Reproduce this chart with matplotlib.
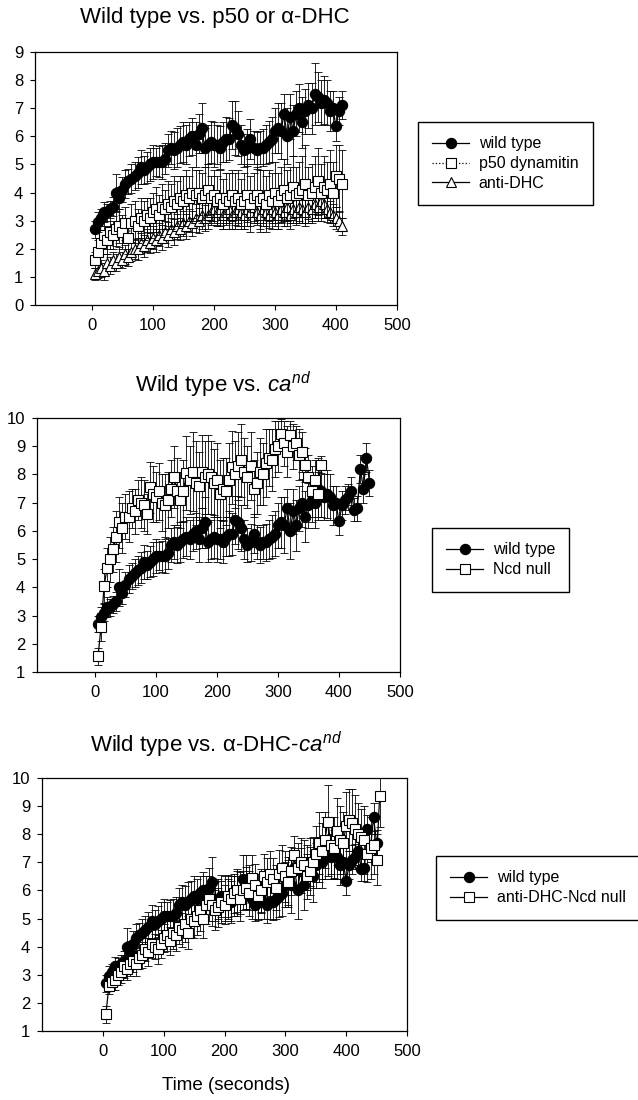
import numpy as np
import matplotlib
matplotlib.use("Agg")
import matplotlib.pyplot as plt

plt.rcParams['font.family'] = ['Liberation Sans', 'DejaVu Sans']
plt.rcParams['mathtext.fontset'] = 'custom'
plt.rcParams['mathtext.rm'] = 'Liberation Sans'
plt.rcParams['mathtext.it'] = 'Liberation Sans:italic'

# sampling interval (s) of the time-lapse
STEP = 5

# wild type (same curve in all three panels), t = 5..450 s
wild_type = [2.7, 2.95, 3.1, 3.3, 3.3, 3.4, 3.5, 4.0, 3.8, 4.1,
             4.3, 4.4, 4.5, 4.6, 4.7, 4.9, 4.8, 4.9, 5.0, 5.1,
             5.1, 5.1, 5.1, 5.2, 5.5, 5.6, 5.5, 5.6, 5.7, 5.8,
             5.7, 5.9, 6.0, 5.7, 6.1, 6.3, 5.6, 5.7, 5.8, 5.7,
             5.7, 5.6, 5.8, 5.9, 5.9, 6.4, 6.3, 6.1, 5.7, 5.5,
             5.6, 5.9, 5.6, 5.5, 5.6, 5.6, 5.7, 5.8, 5.9, 6.2,
             6.3, 6.2, 6.8, 6.0, 6.7, 6.2, 6.8, 7.0, 6.5, 6.9,
             7.1, 7.0, 7.5, 7.4, 7.2, 7.3, 7.2, 6.9, 7.0, 6.35,
             6.9, 7.1, 7.2, 7.4, 6.75, 6.8, 8.2, 7.5, 8.6, 7.7]
wild_type_err = [0.3, 0.35, 0.3, 0.35, 0.3, 0.3, 0.35, 0.65, 0.4, 0.45,
                 0.5, 0.45, 0.5, 0.5, 0.55, 0.6, 0.5, 0.55, 0.6, 0.6,
                 0.5, 0.55, 0.6, 0.55, 0.6, 0.6, 0.65, 0.7, 0.65, 0.7,
                 0.7, 0.6, 0.65, 0.8, 0.7, 0.9, 0.7, 0.7, 0.75, 0.8,
                 0.7, 0.75, 0.7, 0.8, 0.75, 0.85, 0.95, 0.8, 0.7, 0.6,
                 0.65, 0.7, 0.6, 0.65, 0.6, 0.65, 0.7, 0.75, 0.8, 0.8,
                 0.9, 1.0, 0.7, 1.0, 0.8, 0.9, 0.8, 0.85, 0.9, 0.8,
                 0.8, 0.9, 1.1, 0.9, 0.8, 0.85, 0.8, 0.7, 0.6, 0.5,
                 0.5, 0.5, 0.45, 0.5, 0.4, 0.45, 0.5, 0.5, 0.5, 0.45]

# p50 dynamitin, t = 5..410 s
p50 = [1.6, 1.9, 2.2, 2.5, 2.3, 2.6, 2.5, 2.7, 2.8, 2.6,
       2.9, 2.4, 2.9, 3.0, 2.8, 3.1, 3.0, 3.2, 3.1, 3.3,
       3.4, 3.2, 3.5, 3.4, 3.6, 3.5, 3.7, 3.6, 3.8, 3.7,
       3.9, 3.8, 4.0, 3.9, 4.0, 3.8, 3.9, 4.1, 3.8, 3.9,
       3.7, 3.8, 3.6, 3.8, 3.7, 3.9, 3.7, 3.8, 3.6, 3.7,
       3.9, 3.6, 3.8, 3.9, 3.7, 3.8, 3.6, 3.9, 3.7, 4.0,
       3.7, 3.9, 4.1, 3.8, 3.9, 4.2, 3.9, 4.0, 4.1, 4.3,
       3.9, 4.0, 4.2, 4.4, 4.0, 4.2, 4.1, 4.3, 4.0, 4.6,
       4.5, 4.3]
p50_err = [0.3, 0.4, 0.4, 0.5, 0.5, 0.6, 0.5, 0.6, 0.6, 0.6,
           0.6, 0.6, 0.7, 0.7, 0.6, 0.7, 0.7, 0.6, 0.7, 0.7,
           0.8, 0.7, 0.8, 0.7, 0.8, 0.8, 0.9, 0.8, 0.8, 0.9,
           0.9, 0.8, 0.9, 0.9, 0.8, 0.9, 1.0, 0.9, 0.8, 0.9,
           0.9, 1.0, 0.9, 0.9, 1.0, 0.9, 1.0, 1.0, 0.9, 1.0,
           1.1, 1.0, 0.9, 1.0, 1.1, 1.0, 1.0, 0.9, 1.0, 1.1,
           1.0, 1.0, 1.1, 1.0, 1.0, 1.1, 1.0, 1.1, 1.2, 1.4,
           1.0, 1.0, 1.1, 1.2, 1.0, 1.1, 1.0, 1.2, 1.1, 1.1,
           1.2, 1.2]

# anti-DHC, t = 5..410 s
anti_dhc = [1.1, 1.2, 1.3, 1.2, 1.5, 1.4, 1.6, 1.5, 1.7, 1.6,
            1.8, 1.7, 1.9, 2.0, 2.0, 2.2, 2.1, 2.3, 2.2, 2.4,
            2.3, 2.5, 2.4, 2.6, 2.5, 2.7, 2.6, 2.8, 2.7, 2.9,
            2.8, 3.0, 2.9, 3.1, 3.0, 3.2, 3.1, 3.2, 3.3, 3.4,
            3.3, 3.4, 3.2, 3.3, 3.4, 3.2, 3.3, 3.4, 3.3, 3.2,
            3.4, 3.3, 3.5, 3.3, 3.2, 3.4, 3.3, 3.2, 3.4, 3.3,
            3.2, 3.4, 3.3, 3.5, 3.2, 3.4, 3.3, 3.5, 3.4, 3.3,
            3.5, 3.4, 3.6, 3.5, 3.7, 3.6, 3.4, 3.3, 3.2, 3.1,
            3.0, 2.8]
anti_dhc_err = [0.2, 0.25, 0.3, 0.3, 0.3, 0.3, 0.3, 0.3, 0.35, 0.3,
                0.35, 0.3, 0.35, 0.35, 0.4, 0.35, 0.4, 0.4, 0.35, 0.4,
                0.4, 0.4, 0.45, 0.4, 0.45, 0.4, 0.45, 0.45, 0.4, 0.45,
                0.45, 0.4, 0.45, 0.5, 0.45, 0.5, 0.45, 0.5, 0.45, 0.5,
                0.45, 0.5, 0.5, 0.45, 0.5, 0.5, 0.45, 0.5, 0.5, 0.5,
                0.45, 0.5, 0.5, 0.45, 0.5, 0.5, 0.5, 0.45, 0.5, 0.5,
                0.5, 0.45, 0.5, 0.5, 0.5, 0.5, 0.45, 0.5, 0.5, 0.5,
                0.45, 0.5, 0.5, 0.5, 0.45, 0.5, 0.45, 0.4, 0.4, 0.4,
                0.35, 0.3]

# Ncd null, t = 5..370 s
ncd_null = [1.55, 2.6, 4.05, 4.7, 5.0, 5.35, 5.8, 6.3, 6.1, 6.5,
            6.5, 6.8, 6.7, 7.1, 7.0, 6.9, 6.6, 7.55, 7.3, 7.2,
            7.4, 7.0, 6.9, 7.1, 7.5, 7.9, 7.4, 7.1, 7.4, 8.05,
            7.8, 8.1, 7.7, 7.6, 8.1, 7.9, 8.0, 7.9, 7.7, 7.8,
            7.3, 7.5, 7.4, 7.8, 8.25, 8.0, 8.3, 8.5, 8.1, 7.9,
            8.3, 7.5, 7.7, 8.1, 8.0, 8.4, 8.6, 8.5, 8.9, 9.0,
            9.45, 9.1, 8.8, 9.4, 9.0, 9.1, 8.7, 8.8, 8.35, 7.9,
            7.4, 7.8, 7.3, 8.35]
ncd_null_err = [0.3, 0.5, 0.6, 0.7, 0.8, 0.8, 0.9, 0.9, 0.9, 0.8,
                0.9, 0.7, 0.8, 0.7, 0.9, 0.9, 0.7, 0.9, 1.0, 0.9,
                1.0, 1.0, 1.1, 1.0, 1.0, 1.1, 1.2, 1.0, 1.1, 1.3,
                1.2, 1.4, 1.5, 1.2, 1.3, 1.3, 1.4, 1.3, 1.2, 1.3,
                1.2, 1.1, 1.2, 1.3, 1.3, 1.2, 1.2, 1.3, 1.2, 1.1,
                1.2, 1.0, 1.1, 1.2, 1.1, 1.2, 1.0, 1.1, 1.0, 0.9,
                0.5, 0.8, 0.9, 0.5, 0.8, 0.6, 0.9, 0.7, 0.6, 0.8,
                0.9, 0.7, 0.8, 0.3]

# anti-DHC-Ncd null, t = 5..455 s
dhc_ncd = [1.6, 2.6, 2.75, 2.8, 3.0, 3.1, 3.3, 3.2, 3.4, 3.5,
           3.4, 3.6, 3.7, 3.9, 3.8, 4.1, 4.0, 3.9, 4.1, 4.3,
           4.4, 4.2, 4.5, 4.4, 4.7, 4.6, 4.8, 4.5, 5.0, 4.9,
           5.1, 5.3, 5.0, 5.5, 5.7, 5.5, 5.3, 5.4, 5.6, 5.5,
           5.8, 5.7, 5.9, 6.0, 5.7, 6.0, 6.1, 5.9, 6.45, 6.2,
           5.8, 6.0, 6.5, 6.3, 6.6, 6.4, 6.1, 6.6, 6.8, 6.5,
           6.3, 6.7, 7.25, 6.8, 7.0, 6.9, 6.5, 6.7, 7.0, 7.3,
           7.7, 7.4, 7.8, 8.45, 7.6, 7.5, 8.1, 7.8, 7.7, 8.3,
           8.5, 8.4, 8.2, 8.0, 7.9, 7.8, 7.3, 7.5, 7.6, 7.1, 9.35]
dhc_ncd_err = [0.3, 0.3, 0.3, 0.35, 0.35, 0.4, 0.4, 0.4, 0.45, 0.4,
               0.45, 0.4, 0.45, 0.4, 0.5, 0.5, 0.45, 0.5, 0.5, 0.5,
               0.55, 0.5, 0.6, 0.55, 0.6, 0.6, 0.65, 0.6, 0.65, 0.6,
               0.7, 0.75, 0.7, 0.7, 0.8, 0.75, 0.7, 0.7, 0.75, 0.7,
               0.75, 0.8, 0.7, 0.75, 0.8, 0.7, 0.75, 0.8, 0.8, 0.75,
               0.8, 0.75, 0.8, 0.85, 0.8, 0.75, 0.8, 0.85, 0.8, 0.9,
               0.8, 0.85, 0.7, 0.9, 0.85, 0.9, 0.8, 0.85, 0.9, 1.0,
               1.1, 1.0, 1.0, 1.3, 1.0, 1.1, 1.2, 1.2, 1.1, 1.2,
               1.1, 1.2, 1.2, 1.1, 1.0, 1.2, 1.0, 1.1, 1.0, 0.9, 1.1]

wt_time = np.arange(1, len(wild_type) + 1) * STEP
p50_time = np.arange(1, len(p50) + 1) * STEP
adhc_time = np.arange(1, len(anti_dhc) + 1) * STEP
ncd_time = np.arange(1, len(ncd_null) + 1) * STEP
dn_time = np.arange(1, len(dhc_ncd) + 1) * STEP

W, H = 638, 1100
fig = plt.figure(figsize=(W / 100, H / 100), dpi=100)


def px_axes(left, top, right, bottom):
    return fig.add_axes([left / W, 1 - bottom / H, (right - left) / W, (bottom - top) / H])


def series(ax, t, y, err, marker, face, ls='-', ms=6.0, z=2, label=None):
    ax.errorbar(t, y, yerr=err, fmt='none', ecolor='black', elinewidth=0.6,
                capsize=2.8, capthick=0.6, zorder=z)
    line, = ax.plot(t, y, ls=ls, color='black', lw=0.9, marker=marker, ms=ms,
                    mfc=face, mec='black', mew=0.8, zorder=z + 0.5, label=label)
    return line


def style(ax, xmin, ylo, yhi):
    ax.set_xlim(xmin, 500)
    ax.set_ylim(ylo, yhi)
    ax.set_xticks([0, 100, 200, 300, 400, 500])
    ax.set_yticks(range(ylo, yhi + 1))
    ax.tick_params(direction='out', top=False, right=False, length=3.5,
                   width=0.8, labelsize=12, pad=5)
    ax.tick_params(axis='x', pad=6)
    for s in ax.spines.values():
        s.set_linewidth(0.9)


def legend(handles, x, y):
    fig.legend(handles=handles, loc='upper left', bbox_to_anchor=(x / W, 1 - y / H),
               bbox_transform=fig.transFigure, borderaxespad=0, frameon=True,
               fancybox=False, edgecolor='black', framealpha=1, fontsize=11.5,
               handlelength=2.3, handletextpad=0.6, labelspacing=0.3,
               borderpad=0.9)


# panel 1
ax1 = px_axes(35, 52, 397, 305)
wt_short = wt_time <= 410
h_tri = series(ax1, adhc_time, anti_dhc, anti_dhc_err, '^', 'white', ms=7.0, z=2, label='anti-DHC')
h_sq = series(ax1, p50_time, p50, p50_err, 's', 'white', ls=':', ms=6.8, z=3, label='p50 dynamitin')
h_wt = series(ax1, wt_time[wt_short], np.array(wild_type)[wt_short],
              np.array(wild_type_err)[wt_short], 'o', 'black', ms=7.4, z=4, label='wild type')
style(ax1, -93, 0, 9)
fig.text(215 / W, 1 - 17 / H, 'Wild type vs. p50 or α-DHC', ha='center', va='center', fontsize=16)
legend([h_wt, h_sq, h_tri], 418, 122)

# panel 2
ax2 = px_axes(37, 418, 400, 672)
h_wt2 = series(ax2, wt_time, wild_type, wild_type_err, 'o', 'black', ms=7.4, z=2, label='wild type')
h_ncd = series(ax2, ncd_time, ncd_null, ncd_null_err, 's', 'white', ms=6.8, z=4, label='Ncd null')
style(ax2, -95, 1, 10)
fig.text(223 / W, 1 - 385 / H, 'Wild type vs. $ca^{nd}$', ha='center', va='center', fontsize=16)
legend([h_wt2, h_ncd], 432, 528)

# panel 3
ax3 = px_axes(42, 778, 407, 1031)
h_wt3 = series(ax3, wt_time, wild_type, wild_type_err, 'o', 'black', ms=7.4, z=2, label='wild type')
h_dn = series(ax3, dn_time, dhc_ncd, dhc_ncd_err, 's', 'white', ms=6.8, z=4, label='anti-DHC-Ncd null')
style(ax3, -100, 1, 10)
fig.text(216 / W, 1 - 745 / H, 'Wild type vs. α-DHC-$ca^{nd}$', ha='center', va='center', fontsize=16)
legend([h_wt3, h_dn], 436, 856)

fig.text(226 / W, 1 - 1085 / H, 'Time (seconds)', ha='center', va='center', fontsize=13.5)

fig.savefig('out.png', dpi=100)
